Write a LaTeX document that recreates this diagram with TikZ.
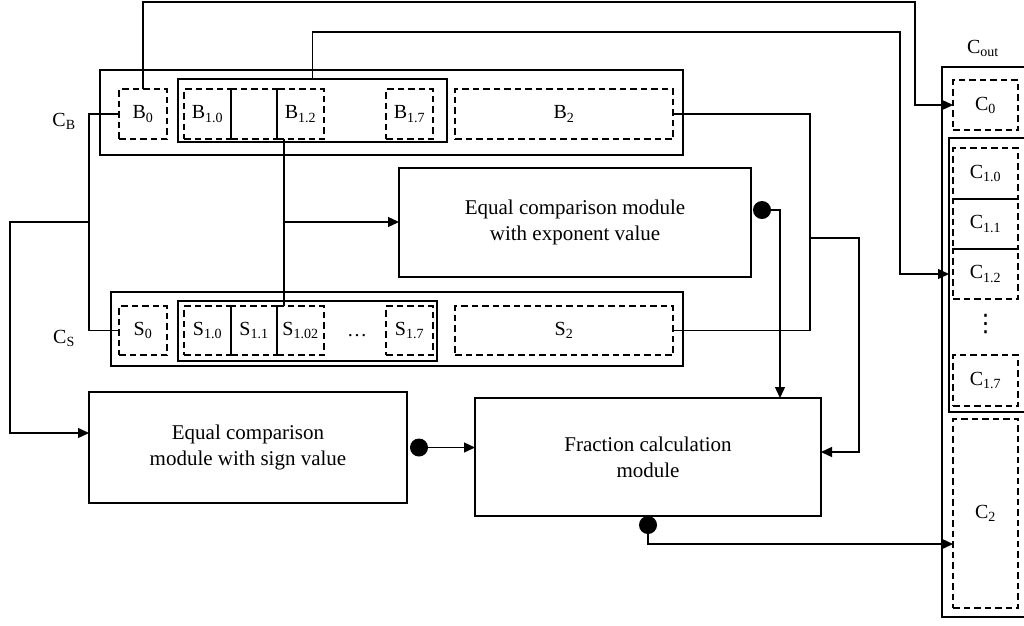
\documentclass[tikz,border=0pt]{standalone}
\usepackage{fontspec}
\setmainfont{Liberation Serif}
\newfontfamily\symfont{DejaVu Sans}
\usetikzlibrary{arrows.meta,calc}
\begin{document}
\begin{tikzpicture}[x=1pt,y=-1pt,line width=1.3pt,
  box/.style={draw,inner sep=0pt,outer sep=0pt},
  dbox/.style={draw,dash pattern=on 6.5pt off 4pt,inner sep=0pt,outer sep=0pt,
    font=\fontsize{20}{24}\selectfont},
  module/.style={box,align=center,font=\fontsize{21}{26}\selectfont},
  lbl/.style={inner sep=0pt,font=\fontsize{20}{24}\selectfont},
  arr/.style={-{Triangle[length=11pt,width=10pt]}},
  dot/.style={circle,fill,inner sep=0pt,minimum size=18pt},
]
\useasboundingbox (0,0) rectangle (1024,625);

% ---------- register C_B ----------
\node[box,minimum width=583pt,minimum height=85pt] (cb) at (391.5,112.5) {};
\node[box,minimum width=269pt,minimum height=63pt] (b1) at (312.5,110.5) {};
\node[dbox,minimum width=48pt,minimum height=50pt] (b0) at (143,114) {B\textsubscript{0}};
\node[dbox,minimum width=47pt,minimum height=50pt] (b10) at (207.5,114) {B\textsubscript{1.0}};
\node[dbox,minimum width=46pt,minimum height=50pt] (bm) at (254,114) {};
\node[dbox,minimum width=47pt,minimum height=50pt] (b12) at (300.5,114) {B\textsubscript{1.2}};
\node[dbox,minimum width=47pt,minimum height=50pt] (b17) at (409.5,114) {B\textsubscript{1.7}};
\node[dbox,minimum width=218pt,minimum height=50pt] (b2) at (564,114) {B\textsubscript{2}};
\draw (b10.north east) -- (b10.south east);
\draw (bm.north east) -- (bm.south east);
\node[lbl] (cblabel) at (64,121) {C\textsubscript{B}};

% ---------- register C_S ----------
\node[box,minimum width=572pt,minimum height=74pt] (cs) at (397,329) {};
\node[box,minimum width=259pt,minimum height=60pt] (s1) at (307.5,331) {};
\node[dbox,minimum width=48pt,minimum height=49pt] (s0) at (143,330.5) {S\textsubscript{0}};
\node[dbox,minimum width=47pt,minimum height=49pt] (s10) at (207.5,330.5) {S\textsubscript{1.0}};
\node[dbox,minimum width=46pt,minimum height=49pt] (s11) at (254,330.5) {S\textsubscript{1.1}};
\node[dbox,minimum width=47pt,minimum height=49pt] (s102) at (300.5,330.5) {S\textsubscript{1.02}};
\node[lbl,anchor=base] (sdots) at (357,336) {\dots};
\node[dbox,minimum width=47pt,minimum height=49pt] (s17) at (409.5,330.5) {S\textsubscript{1.7}};
\node[dbox,minimum width=218pt,minimum height=49pt] (s2) at (564,330.5) {S\textsubscript{2}};
\draw (s10.north east) -- (s10.south east);
\draw (s11.north east) -- (s11.south east);
\node[lbl] (cslabel) at (64,338) {C\textsubscript{S}};

% ---------- modules ----------
\node[module,minimum width=352pt,minimum height=109pt] (exp) at (575,222.5)
  {Equal comparison module\\with exponent value};
\node[module,minimum width=318pt,minimum height=111pt] (sign) at (248,447.5)
  {Equal comparison\\module with sign value};
\node[module,minimum width=346pt,minimum height=118pt] (frac) at (648,457)
  {Fraction calculation\\module};

% ---------- output register C_out ----------
\node[box,minimum width=88pt,minimum height=550pt] (cout) at (986,342) {};
\node[box,minimum width=81pt,minimum height=274pt] (c1) at (989.5,275) {};
\node[dbox,minimum width=65pt,minimum height=50pt] (c0) at (985.5,105) {C\textsubscript{0}};
\node[dbox,minimum width=65pt,minimum height=51pt] (c10) at (985.5,173.5) {C\textsubscript{1.0}};
\node[dbox,minimum width=65pt,minimum height=50pt] (c11) at (985.5,224) {C\textsubscript{1.1}};
\node[dbox,minimum width=65pt,minimum height=50pt] (c12) at (985.5,274) {C\textsubscript{1.2}};
\node[inner sep=0pt,font=\symfont\fontsize{24}{24}\selectfont] (cvdots) at (985.5,324) {⋮};
\node[dbox,minimum width=65pt,minimum height=51pt] (c17) at (985.5,380.5) {C\textsubscript{1.7}};
\node[dbox,minimum width=65pt,minimum height=189pt] (c2) at (985.5,513.5) {C\textsubscript{2}};
\node[lbl] (coutlabel) at (983,48) {C\textsubscript{out}};

% ---------- connectors ----------
\coordinate (lj) at (89,222);
\coordinate (mj) at (284,222);
\coordinate (rj) at (810,238);

\draw[arr] (b0.north) |- (915,2) |- (c0.west);
\draw[arr] (b1.north) |- (900,32) |- (c1.west |- c12.west);

\draw (b0.west) -| (lj) |- (s0.west);
\draw[arr] (lj) -- (10,222) |- ([yshift=14.5pt]sign.west);

\draw ([xshift=7pt]b12.south west) -- ([xshift=7pt]s102.north west);
\draw[arr] (mj) -- (mj -| exp.west);

\draw (b2.east) -| (rj) |- (s2.east);
\draw[arr] (rj) -| (859,300) |- ([yshift=5pt]frac.east);

\node[dot] (edot) at (762,210) {};
\draw[arr] (edot.center) -| ([xshift=132pt]frac.north);

\node[dot] (sdot) at (419,447.5) {};
\draw[arr] (sdot.center) -- (sdot.center -| frac.west);

\node[dot] (fdot) at (648,525) {};
\draw[arr] (fdot.center) |- ([yshift=-30.5pt]c2.west);
\end{tikzpicture}
\end{document}
